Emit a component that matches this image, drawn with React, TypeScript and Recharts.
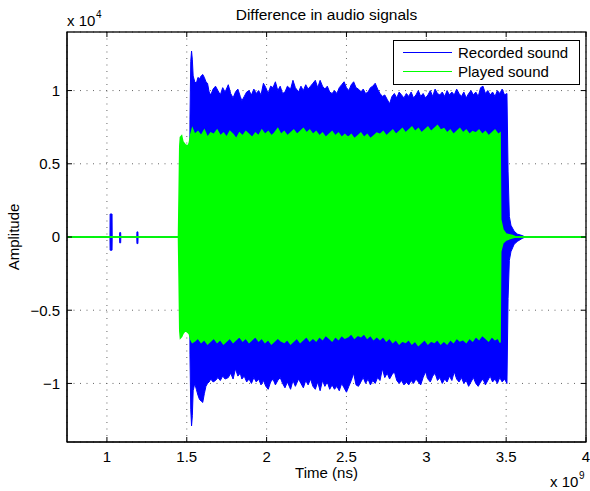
import React from 'react';
import { ComposedChart, Area, XAxis, YAxis, CartesianGrid } from 'recharts';

// time in units of 1e9 ns, amplitude in units of 1e4
const xDomain = [0.75, 4];
const yDomain = [-1.4, 1.4];
const xTicks = [1, 1.5, 2, 2.5, 3, 3.5, 4];
const yTicks = [-1, -0.5, 0, 0.5, 1];

// Recorded sound: envelope (low / high)
const blueTime = [
  0.75, 1.019, 1.020, 1.032, 1.033, 1.079, 1.080, 1.086, 1.087, 1.187,
  1.188, 1.194, 1.195, 1.518, 1.520, 1.525, 1.530, 1.535, 1.540, 1.550,
  1.560, 1.570, 1.580, 1.590, 1.600, 1.610, 1.620, 1.630, 1.640, 1.650,
  1.665, 1.680, 1.695, 1.710, 1.725, 1.740, 1.760, 1.775, 1.790, 1.805,
  1.820, 1.835, 1.845, 1.860, 1.875, 1.890, 1.905, 1.920, 1.935, 1.950,
  1.965, 1.980, 1.995, 2.010, 2.025, 2.040, 2.055, 2.070, 2.085, 2.100,
  2.115, 2.130, 2.150, 2.165, 2.180, 2.200, 2.215, 2.230, 2.245, 2.260,
  2.275, 2.290, 2.305, 2.320, 2.335, 2.350, 2.365, 2.380, 2.395, 2.410,
  2.425, 2.440, 2.455, 2.470, 2.485, 2.500, 2.515, 2.530, 2.545, 2.560,
  2.575, 2.590, 2.605, 2.620, 2.635, 2.650, 2.665, 2.680, 2.695, 2.710,
  2.725, 2.740, 2.755, 2.770, 2.785, 2.800, 2.815, 2.830, 2.845, 2.860,
  2.875, 2.890, 2.905, 2.920, 2.935, 2.950, 2.965, 2.980, 2.995, 3.010,
  3.025, 3.040, 3.055, 3.070, 3.085, 3.100, 3.115, 3.130, 3.145, 3.160,
  3.175, 3.190, 3.205, 3.220, 3.235, 3.250, 3.265, 3.280, 3.295, 3.310,
  3.325, 3.340, 3.355, 3.370, 3.385, 3.400, 3.415, 3.430, 3.445, 3.460,
  3.475, 3.490, 3.505, 3.512, 3.520, 3.530, 3.550, 3.570, 3.600, 3.620,
  4.0,
];
const blueHigh = [
  0, 0, 0.157, 0.157, 0, 0, 0.03, 0.03, 0, 0,
  0.035, 0.035, 0, 0, 0.80, 1.20, 1.27, 1.21, 1.10, 1.06,
  1.05, 1.09, 1.08, 1.10, 1.11, 1.09, 1.06, 1.05, 0.99, 0.97,
  1.01, 1.03, 1.00, 0.97, 1.02, 0.99, 1.04, 0.98, 0.95, 0.99,
  1.01, 0.96, 0.93, 0.96, 0.99, 1.00, 0.97, 1.01, 0.98, 1.00,
  0.97, 1.05, 1.02, 0.98, 1.03, 1.02, 1.06, 1.00, 1.03, 0.98,
  0.99, 1.03, 1.01, 1.07, 1.02, 0.99, 1.03, 1.00, 1.04, 1.01,
  1.03, 1.05, 1.07, 1.02, 1.07, 1.03, 1.01, 1.03, 0.99, 0.98,
  1.00, 0.98, 1.02, 1.04, 1.06, 1.02, 1.00, 1.04, 1.06, 1.02,
  1.01, 0.99, 1.01, 0.98, 0.99, 1.02, 1.03, 1.05, 1.01, 0.98,
  0.96, 0.97, 0.94, 0.91, 0.96, 0.98, 0.95, 0.99, 0.97, 0.95,
  0.98, 0.96, 0.99, 0.95, 0.97, 1.00, 0.96, 0.98, 0.95, 0.97,
  1.00, 0.96, 1.01, 0.98, 0.97, 0.99, 0.96, 1.00, 0.97, 0.99,
  0.97, 1.01, 0.98, 0.96, 0.99, 0.95, 0.98, 1.00, 0.97, 0.99,
  0.96, 1.02, 1.03, 0.98, 1.00, 0.97, 0.99, 0.96, 1.00, 0.98,
  1.01, 0.97, 0.98, 0.45, 0.14, 0.08, 0.04, 0.02, 0.01, 0,
  0,
];
const blueLow = [
  0, 0, -0.09, -0.09, 0, 0, -0.04, -0.04, 0, 0,
  -0.045, -0.045, 0, 0, -0.80, -1.18, -1.29, -1.22, -1.05, -1.00,
  -1.04, -1.08, -1.11, -1.12, -1.13, -1.07, -1.02, -1.00, -0.99, -0.97,
  -0.99, -0.98, -0.96, -0.98, -0.95, -0.97, -0.96, -0.93, -0.97, -0.90,
  -0.95, -0.93, -0.97, -0.95, -0.99, -0.97, -1.00, -0.96, -0.99, -0.97,
  -1.01, -0.98, -1.02, -1.04, -0.99, -0.97, -1.01, -0.98, -0.96, -1.00,
  -1.03, -0.99, -1.04, -0.98, -1.02, -0.97, -1.00, -1.03, -0.98, -1.01,
  -0.97, -1.02, -1.04, -0.99, -1.05, -0.98, -1.02, -0.99, -1.04, -1.01,
  -1.04, -1.02, -1.05, -1.00, -1.03, -1.06, -1.02, -0.98, -0.93, -1.01,
  -1.02, -0.99, -0.96, -1.00, -0.97, -1.01, -0.98, -1.00, -0.96, -0.98,
  -0.90, -0.96, -0.93, -0.97, -0.94, -0.92, -0.98, -1.00, -0.98, -1.01,
  -0.99, -1.01, -0.98, -1.00, -0.97, -0.99, -1.01, -0.96, -0.92, -0.97,
  -0.99, -0.95, -0.93, -0.98, -0.96, -1.00, -0.97, -0.99, -0.95, -0.98,
  -0.92, -0.97, -0.99, -0.96, -1.00, -0.98, -1.02, -0.99, -0.96, -1.00,
  -1.02, -0.99, -0.97, -1.01, -0.98, -0.95, -0.99, -0.97, -1.00, -0.96,
  -0.99, -0.97, -1.00, -0.42, -0.16, -0.10, -0.05, -0.03, -0.01, 0,
  0,
];

// Played sound: envelope (low / high)
const greenTime = [
  0.75, 1.448, 1.452, 1.456, 1.460, 1.468, 1.476, 1.490, 1.505, 1.515,
  1.525, 1.535, 1.550, 1.570, 1.590, 1.610, 1.630, 1.650, 1.670, 1.690,
  1.710, 1.730, 1.750, 1.770, 1.790, 1.810, 1.830, 1.850, 1.870, 1.890,
  1.910, 1.930, 1.950, 1.970, 1.990, 2.010, 2.030, 2.050, 2.070, 2.090,
  2.110, 2.130, 2.150, 2.170, 2.190, 2.210, 2.230, 2.250, 2.270, 2.290,
  2.310, 2.330, 2.350, 2.370, 2.390, 2.410, 2.430, 2.450, 2.470, 2.490,
  2.510, 2.530, 2.550, 2.570, 2.590, 2.610, 2.630, 2.650, 2.670, 2.690,
  2.710, 2.730, 2.750, 2.770, 2.790, 2.810, 2.830, 2.850, 2.870, 2.890,
  2.910, 2.930, 2.950, 2.970, 2.990, 3.010, 3.030, 3.050, 3.070, 3.090,
  3.110, 3.130, 3.150, 3.170, 3.190, 3.210, 3.230, 3.250, 3.270, 3.290,
  3.310, 3.330, 3.350, 3.370, 3.390, 3.410, 3.430, 3.450, 3.462, 3.466,
  3.480, 3.500, 3.540, 3.560, 4.0,
];
const greenHigh = [
  0, 0, 0.30, 0.62, 0.68, 0.69, 0.65, 0.63, 0.62, 0.64,
  0.70, 0.74, 0.70, 0.72, 0.69, 0.73, 0.68, 0.71, 0.70, 0.73,
  0.69, 0.71, 0.68, 0.72, 0.70, 0.67, 0.71, 0.69, 0.72, 0.70,
  0.68, 0.71, 0.69, 0.73, 0.70, 0.72, 0.69, 0.71, 0.74, 0.70,
  0.72, 0.69, 0.71, 0.73, 0.70, 0.72, 0.74, 0.71, 0.73, 0.70,
  0.72, 0.69, 0.71, 0.68, 0.70, 0.72, 0.69, 0.71, 0.68, 0.70,
  0.68, 0.70, 0.67, 0.69, 0.71, 0.68, 0.70, 0.67, 0.69, 0.71,
  0.70, 0.72, 0.69, 0.71, 0.73, 0.70, 0.72, 0.74, 0.71, 0.73,
  0.75, 0.72, 0.74, 0.71, 0.73, 0.75, 0.72, 0.74, 0.76, 0.73,
  0.74, 0.71, 0.73, 0.70, 0.72, 0.74, 0.71, 0.73, 0.70, 0.72,
  0.71, 0.73, 0.70, 0.72, 0.69, 0.71, 0.73, 0.70, 0.71, 0.12,
  0.05, 0.02, 0.01, 0, 0,
];
const greenLow = [
  0, 0, -0.30, -0.64, -0.69, -0.68, -0.66, -0.64, -0.65, -0.66,
  -0.70, -0.72, -0.71, -0.69, -0.72, -0.70, -0.73, -0.71, -0.69, -0.72,
  -0.70, -0.73, -0.71, -0.69, -0.72, -0.70, -0.68, -0.71, -0.69, -0.72,
  -0.70, -0.68, -0.71, -0.69, -0.72, -0.70, -0.73, -0.71, -0.69, -0.71,
  -0.72, -0.70, -0.73, -0.71, -0.69, -0.72, -0.70, -0.68, -0.71, -0.69,
  -0.71, -0.68, -0.70, -0.67, -0.69, -0.71, -0.68, -0.70, -0.67, -0.69,
  -0.68, -0.66, -0.69, -0.67, -0.68, -0.66, -0.69, -0.67, -0.70, -0.68,
  -0.70, -0.68, -0.71, -0.69, -0.72, -0.70, -0.73, -0.71, -0.72, -0.70,
  -0.73, -0.71, -0.74, -0.72, -0.70, -0.73, -0.71, -0.72, -0.70, -0.73,
  -0.71, -0.73, -0.70, -0.72, -0.69, -0.71, -0.70, -0.72, -0.69, -0.71,
  -0.68, -0.70, -0.67, -0.69, -0.71, -0.68, -0.70, -0.69, -0.72, -0.10,
  -0.04, -0.02, -0.005, 0, 0,
];

const blueData = blueTime.map((t, i) => ({ t, range: [blueLow[i], blueHigh[i]] }));
const greenData = greenTime.map((t, i) => ({ t, range: [greenLow[i], greenHigh[i]] }));

const FONT = '"Liberation Sans", Arial, Helvetica, sans-serif';
const BLUE = '#0000ff';
const GREEN = '#00ff00';

// plot box (matches the chart margins / axis sizes below)
const W = 590;
const H = 491;
const M = { top: 32, right: 4, bottom: 19, left: 0 };
const Y_AXIS_W = 67;
const X_AXIS_H = 30;
const box = {
  x: M.left + Y_AXIS_W,
  y: M.top,
  w: W - M.left - M.right - Y_AXIS_W,
  h: H - M.top - M.bottom - X_AXIS_H,
};
const px = (t: number) => box.x + ((t - xDomain[0]) / (xDomain[1] - xDomain[0])) * box.w;
const py = (v: number) => box.y + ((yDomain[1] - v) / (yDomain[1] - yDomain[0])) * box.h;

const fmtY = (v: number) => (v < 0 ? `\u2212${Math.abs(v)}` : `${v}`);

export default function App() {
  const tickStyle = { fill: '#000', fontSize: 15, fontFamily: FONT };
  return (
    <div style={{ position: 'absolute', left: 0, top: 0, width: W, height: H, background: '#fff' }}>
      <ComposedChart width={W} height={H} margin={M}>
        <CartesianGrid stroke="#666" strokeDasharray="1 5.5" />
        <XAxis
          dataKey="t"
          type="number"
          domain={xDomain}
          ticks={xTicks}
          interval={0}
          allowDataOverflow
          height={X_AXIS_H}
          tickSize={-5}
          tickMargin={14}
          tick={tickStyle}
          axisLine={{ stroke: '#000' }}
          tickLine={{ stroke: '#000' }}
        />
        <YAxis
          type="number"
          domain={yDomain}
          ticks={yTicks}
          interval={0}
          allowDataOverflow
          width={Y_AXIS_W}
          tickSize={-5}
          tickMargin={12}
          tickFormatter={fmtY}
          tick={tickStyle}
          axisLine={{ stroke: '#000' }}
          tickLine={{ stroke: '#000' }}
        />
        <Area
          data={blueData}
          dataKey="range"
          type="linear"
          stroke={BLUE}
          strokeWidth={1}
          fill={BLUE}
          fillOpacity={1}
          dot={false}
          activeDot={false}
          isAnimationActive={false}
        />
        <Area
          data={greenData}
          dataKey="range"
          type="linear"
          stroke={GREEN}
          strokeWidth={1.5}
          fill={GREEN}
          fillOpacity={1}
          dot={false}
          activeDot={false}
          isAnimationActive={false}
        />
      </ComposedChart>

      <svg
        width={W}
        height={H}
        style={{ position: 'absolute', left: 0, top: 0, pointerEvents: 'none', overflow: 'visible' }}
        fontFamily={FONT}
      >
        {/* MATLAB-style box: full frame with inward ticks on top and right */}
        <rect x={box.x} y={box.y} width={box.w} height={box.h} fill="none" stroke="#000" strokeWidth={1.3} />
        {xTicks.map((t) => (
          <line key={`tx${t}`} x1={px(t)} x2={px(t)} y1={box.y} y2={box.y + 5} stroke="#000" />
        ))}
        {yTicks.map((v) => (
          <line key={`ty${v}`} x1={box.x + box.w - 5} x2={box.x + box.w} y1={py(v)} y2={py(v)} stroke="#000" />
        ))}

        <text x={326.5} y={20} textAnchor="middle" fontSize={15.5}>Difference in audio signals</text>
        <text x={67} y={26} fontSize={15}>x 10</text>
        <text x={96} y={18} fontSize={10}>4</text>
        <text x={326.5} y={478} textAnchor="middle" fontSize={15}>Time (ns)</text>
        <text x={550} y={487} fontSize={15}>x 10</text>
        <text x={579} y={479} fontSize={10}>9</text>
        <text x={19} y={237} textAnchor="middle" fontSize={15} transform="rotate(-90 19 237)">Amplitude</text>

        {/* legend */}
        <rect x={393.5} y={40.5} width={186} height={44} fill="#fff" stroke="#000" />
        <line x1={403} x2={452} y1={52.5} y2={52.5} stroke={BLUE} />
        <text x={458} y={58} fontSize={15}>Recorded sound</text>
        <line x1={403} x2={452} y1={71.5} y2={71.5} stroke={GREEN} />
        <text x={458} y={77} fontSize={15}>Played sound</text>
      </svg>
    </div>
  );
}
